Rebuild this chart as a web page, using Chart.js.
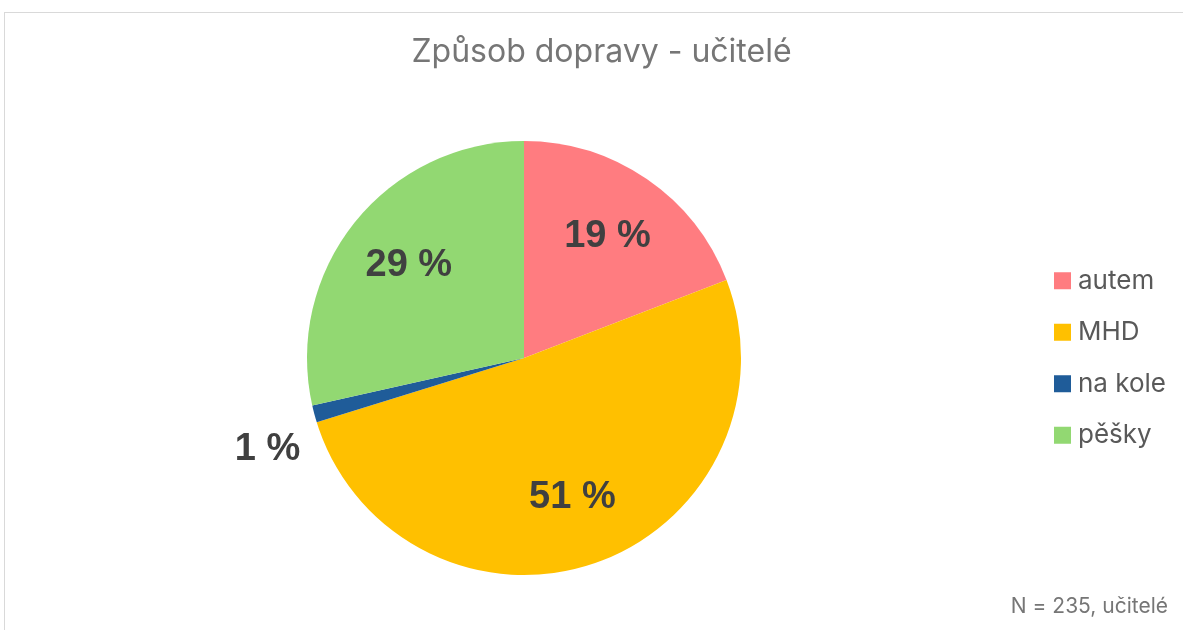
<!DOCTYPE html>
<html lang="cs">
<head>
<meta charset="utf-8">
<title>Způsob dopravy - učitelé</title>
<script src="https://cdn.jsdelivr.net/npm/chart.js@4.4.1/dist/chart.umd.min.js"></script>
<style>
  html, body { margin: 0; padding: 0; background: #fff; }
  #graf { display: block; }
</style>
</head>
<body>
<canvas id="graf" width="1183" height="630"></canvas>
<script>
// Data (N = 235 učitelů)
const kategorie = ['autem', 'MHD', 'na kole', 'pěšky'];
const pocty = [45, 120, 3, 67];
const barvy = ['#FF7C80', '#FFC000', '#1F5C99', '#92D872'];
const nadpis = 'Způsob dopravy - učitelé';
const poznamka = 'N = 235, učitelé';

// rámeček kolem grafu (vpravo a dole je oříznutý), nadpis a poznámka vpravo dole
const ramecek = {
    id: 'ramecek',
    beforeDraw(chart) {
        const ctx = chart.ctx;
        ctx.save();
        ctx.strokeStyle = '#D9D9D9';
        ctx.lineWidth = 1;
        ctx.strokeRect(4.5, 12.5, chart.width + 20, chart.height + 20);

        ctx.fillStyle = '#767676';
        ctx.textBaseline = 'middle';
        // nadpis je vystředěný na celý (oříznutý) rámeček, ne na plochu koláče
        ctx.font = '32px Inter, "Open Sans", sans-serif';
        ctx.textAlign = 'center';
        ctx.fillText(nadpis, chart.width / 2 + 10, 52);

        ctx.font = '21px Inter, "Open Sans", sans-serif';
        ctx.textAlign = 'right';
        ctx.fillText(poznamka, chart.width - 15, chart.height - 23);
        ctx.restore();
    }
};

// legenda vpravo, svisle vystředěná podle plochy grafu
const legenda = {
    id: 'legenda',
    afterDraw(chart) {
        const ctx = chart.ctx;
        const area = chart.chartArea;
        const stred = (area.top + area.bottom) / 2;
        const krok = 51.5;
        const x = area.right + 10;
        ctx.save();
        ctx.font = '26px Inter, "Open Sans", sans-serif';
        ctx.textBaseline = 'middle';
        ctx.textAlign = 'left';
        chart.data.labels.forEach((nazev, i) => {
            const y = stred + (i - (chart.data.labels.length - 1) / 2) * krok;
            ctx.fillStyle = chart.data.datasets[0].backgroundColor[i];
            ctx.fillRect(x, y - 8.5, 17, 17);
            ctx.fillStyle = '#595959';
            ctx.fillText(nazev, x + 24, y);
        });
        ctx.restore();
    }
};

// popisky s procenty
const procenta = {
    id: 'procenta',
    afterDatasetsDraw(chart) {
        const ctx = chart.ctx;
        const data = chart.data.datasets[0].data;
        const soucet = data.reduce((a, b) => a + b, 0);
        const meta = chart.getDatasetMeta(0);
        ctx.save();
        ctx.font = 'bold 38px "Liberation Sans", Arial, sans-serif';
        ctx.fillStyle = '#404040';
        ctx.textBaseline = 'middle';
        meta.data.forEach((oblouk, i) => {
            const p = oblouk.getProps(['x', 'y', 'startAngle', 'endAngle', 'outerRadius'], true);
            const podil = data[i] / soucet;
            const uhel = (p.startAngle + p.endAngle) / 2;
            const text = Math.round(podil * 100) + ' %';
            if (podil < 0.05) {
                // malá výseč - popisek venku, vlevo dole od okraje
                const ex = p.x + Math.cos(uhel) * p.outerRadius;
                const ey = p.y + Math.sin(uhel) * p.outerRadius;
                ctx.textAlign = 'right';
                ctx.fillText(text, ex - 14, ey + 36);
            } else {
                const r = p.outerRadius * 0.68;
                ctx.textAlign = 'center';
                ctx.fillText(text, p.x + Math.cos(uhel) * r, p.y + Math.sin(uhel) * r);
            }
        });
        ctx.restore();
    }
};

new Chart(document.getElementById('graf').getContext('2d'), {
    type: 'pie',
    data: {
        labels: kategorie,
        datasets: [{
            data: pocty,
            backgroundColor: barvy,
            borderWidth: 0
        }]
    },
    options: {
        responsive: false,
        animation: false,
        layout: { padding: { left: 4, right: 139, top: 141, bottom: 55 } },
        plugins: {
            title: { display: false },
            legend: { display: false },
            tooltip: { enabled: false }
        }
    },
    plugins: [ramecek, legenda, procenta]
});
</script>
</body>
</html>
